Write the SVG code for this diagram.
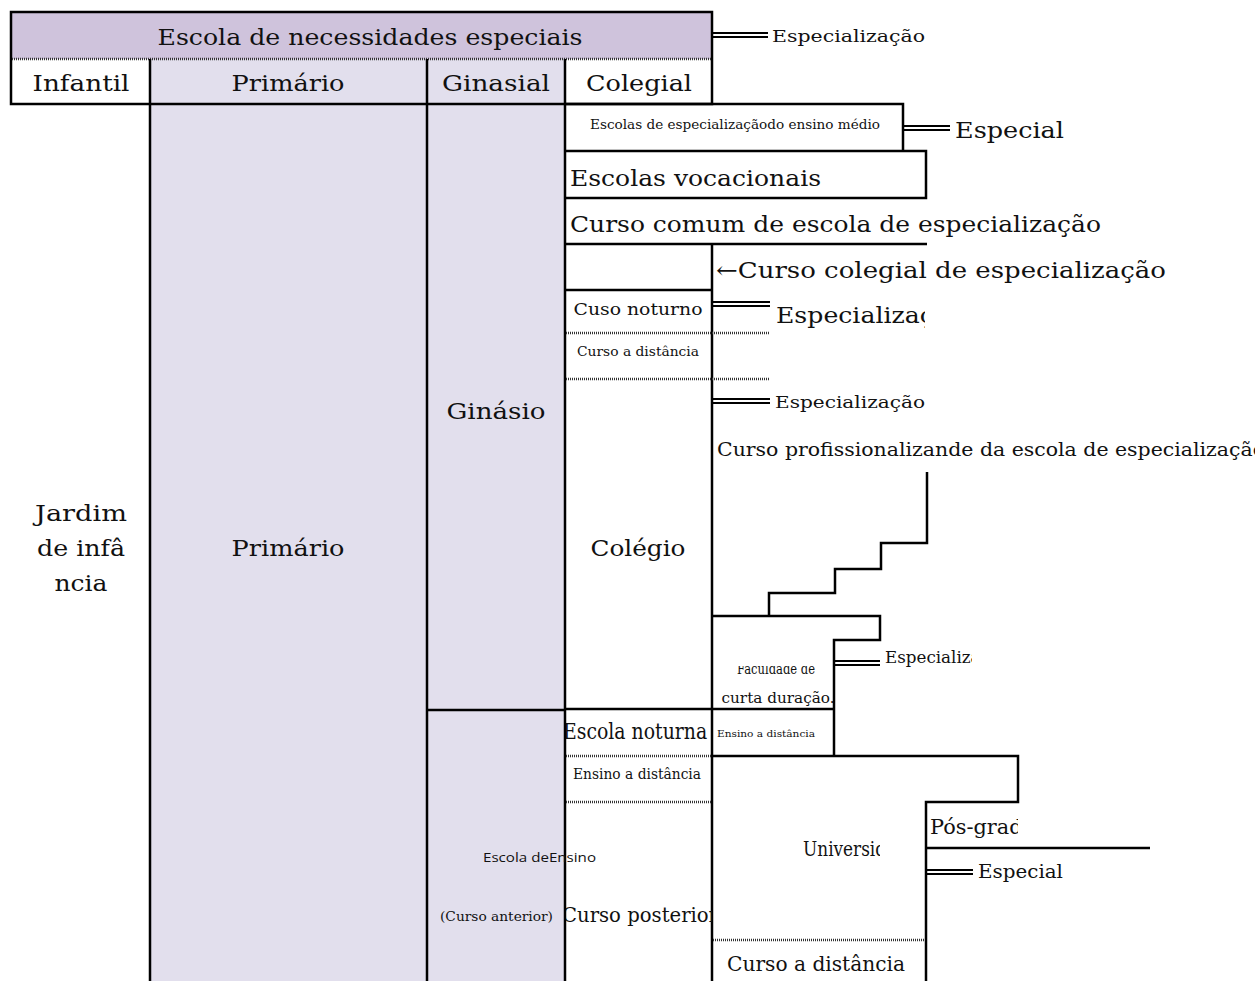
<svg xmlns="http://www.w3.org/2000/svg" width="1255" height="981" viewBox="0 0 1255 981">
<style>
.t{font-family:"DejaVu Serif","Liberation Serif",serif;fill:#111}
.s{font-family:"Open Sans","Liberation Sans",sans-serif;fill:#111}
.ln{stroke:#000;stroke-width:2.5;fill:none}
.dl{stroke:#000;stroke-width:2;fill:none}
.dot{stroke:#333;stroke-width:2.5;stroke-dasharray:1 1;fill:none}
.m{text-anchor:middle}
</style>
<defs>
<clipPath id="c1"><rect x="770" y="280" width="155" height="60"/></clipPath>
<clipPath id="c2"><rect x="880" y="640" width="92" height="40"/></clipPath>
<clipPath id="c3"><rect x="714" y="666" width="118" height="42"/></clipPath>
<clipPath id="c4"><rect x="714" y="820" width="166" height="60"/></clipPath>
<clipPath id="c5"><rect x="928" y="805" width="90" height="40"/></clipPath>
<clipPath id="c6"><rect x="566" y="880" width="146" height="60"/></clipPath>
<clipPath id="c7"><rect x="566" y="710" width="146" height="45"/></clipPath>
</defs>
<rect width="1255" height="981" fill="#fff"/>
<g id="fills">
<rect x="11" y="12" width="701" height="47" fill="#cfc3dc"/>
<rect x="150" y="59" width="277" height="922" fill="#e2dfed"/>
<rect x="427" y="59" width="138" height="922" fill="#e2dfed"/>
</g>
<g id="connectors">
<rect class="ln" x="11" y="12" width="701" height="92"/>
<line class="dot" x1="12" y1="59" x2="711" y2="59"/>
<line class="ln" x1="150" y1="59" x2="150" y2="981"/>
<line class="ln" x1="427" y1="59" x2="427" y2="981"/>
<line class="ln" x1="565" y1="59" x2="565" y2="981"/>
<line class="ln" x1="427" y1="710" x2="565" y2="710"/>
<polyline class="ln" points="565,104 903,104 903,151"/>
<polyline class="ln" points="565,151 926,151 926,198 565,198"/>
<line class="ln" x1="565" y1="244" x2="927" y2="244"/>
<line class="ln" x1="712" y1="244" x2="712" y2="981"/>
<line class="ln" x1="565" y1="290" x2="712" y2="290"/>
<line class="dot" x1="566" y1="333" x2="770" y2="333"/>
<line class="dot" x1="566" y1="379" x2="770" y2="379"/>
<polyline class="ln" points="927,472 927,543 881,543 881,569 835,569 835,593 769,593 769,616"/>
<polyline class="ln" points="712,616 880,616 880,640 834,640 834,757"/>
<line class="ln" x1="565" y1="709" x2="834" y2="709"/>
<polyline class="ln" points="712,756 1018,756 1018,802 926,802 926,981"/>
<line class="ln" x1="926" y1="848" x2="1150" y2="848"/>
<line class="dot" x1="566" y1="756" x2="711" y2="756"/>
<line class="dot" x1="566" y1="802" x2="711" y2="802"/>
<line class="dot" x1="713" y1="940" x2="925" y2="940"/>
<line class="dl" x1="712" y1="33" x2="768" y2="33"/><line class="dl" x1="712" y1="37" x2="768" y2="37"/>
<line class="dl" x1="903" y1="126" x2="950" y2="126"/><line class="dl" x1="903" y1="130" x2="950" y2="130"/>
<line class="dl" x1="712" y1="302" x2="770" y2="302"/><line class="dl" x1="712" y1="306" x2="770" y2="306"/>
<line class="dl" x1="712" y1="399" x2="770" y2="399"/><line class="dl" x1="712" y1="403" x2="770" y2="403"/>
<line class="dl" x1="834" y1="661" x2="880" y2="661"/><line class="dl" x1="834" y1="665" x2="880" y2="665"/>
<line class="dl" x1="926" y1="870" x2="973" y2="870"/><line class="dl" x1="926" y1="874" x2="973" y2="874"/>
</g>
<g id="header">
<text class="t m" x="370" y="45" font-size="22" textLength="425" lengthAdjust="spacingAndGlyphs">Escola de necessidades especiais</text>
<text class="t m" x="81" y="91" font-size="22" textLength="97" lengthAdjust="spacingAndGlyphs">Infantil</text>
<text class="t m" x="288" y="91" font-size="22" textLength="113" lengthAdjust="spacingAndGlyphs">Primário</text>
<text class="t m" x="496" y="91" font-size="22" textLength="108" lengthAdjust="spacingAndGlyphs">Ginasial</text>
<text class="t m" x="639" y="91" font-size="22" textLength="106" lengthAdjust="spacingAndGlyphs">Colegial</text>
<text class="t" x="772" y="42" font-size="16" textLength="153" lengthAdjust="spacingAndGlyphs">Especialização</text>
</g>
<g id="infantil">
<text class="t m" x="81" y="521" font-size="22" textLength="92" lengthAdjust="spacingAndGlyphs">Jardim</text>
<text class="t m" x="81" y="556" font-size="22" textLength="88" lengthAdjust="spacingAndGlyphs">de infâ</text>
<text class="t m" x="81" y="591" font-size="22" textLength="53" lengthAdjust="spacingAndGlyphs">ncia</text>
</g>
<g id="primario"><text class="t m" x="288" y="556" font-size="22" textLength="113" lengthAdjust="spacingAndGlyphs">Primário</text></g>
<g id="ginasio"><text class="t m" x="496" y="419" font-size="22" textLength="99" lengthAdjust="spacingAndGlyphs">Ginásio</text></g>
<g id="escola-ensino">
<text class="s" x="483" y="862" font-size="13" textLength="113" lengthAdjust="spacingAndGlyphs">Escola deEnsino</text>
<text class="t" x="440" y="921" font-size="12" textLength="113" lengthAdjust="spacingAndGlyphs">(Curso anterior)</text>
</g>
<g id="esc-especializacao">
<text class="t m" x="735" y="129" font-size="12" textLength="290" lengthAdjust="spacingAndGlyphs">Escolas de especializaçãodo ensino médio</text>
<text class="t" x="955" y="138" font-size="23" textLength="109" lengthAdjust="spacingAndGlyphs">Especial</text>
</g>
<g id="vocacionais"><text class="t" x="570" y="186" font-size="23" textLength="251" lengthAdjust="spacingAndGlyphs">Escolas vocacionais</text></g>
<g id="curso-comum"><text class="t" x="570" y="232" font-size="23" textLength="531" lengthAdjust="spacingAndGlyphs">Curso comum de escola de especialização</text></g>
<g id="curso-colegial"><text class="t" x="716" y="278" font-size="23" textLength="450" lengthAdjust="spacingAndGlyphs">←Curso colegial de  especialização</text></g>
<g id="noturno">
<text class="t m" x="638" y="315" font-size="17" textLength="129" lengthAdjust="spacingAndGlyphs">Cuso noturno</text>
<text class="t" x="776" y="323" font-size="23" clip-path="url(#c1)" textLength="188" lengthAdjust="spacingAndGlyphs">Especialização</text>
</g>
<g id="distancia1"><text class="t m" x="638" y="356" font-size="12" textLength="122" lengthAdjust="spacingAndGlyphs">Curso a distância</text></g>
<g id="esp2"><text class="t" x="775" y="408" font-size="17" textLength="150" lengthAdjust="spacingAndGlyphs">Especialização</text></g>
<g id="profissionalizante"><text class="t" x="717" y="456" font-size="18" textLength="548" lengthAdjust="spacingAndGlyphs">Curso profissionalizande da escola de especialização</text></g>
<g id="colegio"><text class="t m" x="638" y="556" font-size="22" textLength="95" lengthAdjust="spacingAndGlyphs">Colégio</text></g>
<g id="faculdade">
<text class="t m" x="776" y="674" font-size="14" clip-path="url(#c3)" textLength="78" lengthAdjust="spacingAndGlyphs">Faculdade de</text>
<text class="t m" x="778" y="703" font-size="14" textLength="113" lengthAdjust="spacingAndGlyphs">curta duração.</text>
<text class="t" x="885" y="663" font-size="17" clip-path="url(#c2)" textLength="125" lengthAdjust="spacingAndGlyphs">Especialização</text>
</g>
<g id="escola-noturna">
<g clip-path="url(#c7)"><text class="t" transform="translate(563,739) scale(0.82,1)" x="0" y="0" font-size="23">Escola noturna</text></g>
<text class="t" x="717" y="737" font-size="10" textLength="98" lengthAdjust="spacingAndGlyphs">Ensino a  distância</text>
<text class="t m" x="637" y="779" font-size="14" textLength="128" lengthAdjust="spacingAndGlyphs">Ensino a distância</text>
<text class="t" x="562" y="922" font-size="20" clip-path="url(#c6)" textLength="156" lengthAdjust="spacingAndGlyphs">Curso posterior</text>
</g>
<g id="universidade">
<text class="t" x="803" y="856" font-size="20" clip-path="url(#c4)" textLength="114" lengthAdjust="spacingAndGlyphs">Universidade</text>
<text class="t m" x="816" y="971" font-size="20" textLength="178" lengthAdjust="spacingAndGlyphs">Curso a distância</text>
</g>
<g id="pos-graduacao">
<text class="t" x="930" y="834" font-size="20" clip-path="url(#c5)" textLength="155" lengthAdjust="spacingAndGlyphs">Pós-graduação</text>
<text class="t" x="978" y="878" font-size="18" textLength="85" lengthAdjust="spacingAndGlyphs">Especial</text>
</g>
</svg>
